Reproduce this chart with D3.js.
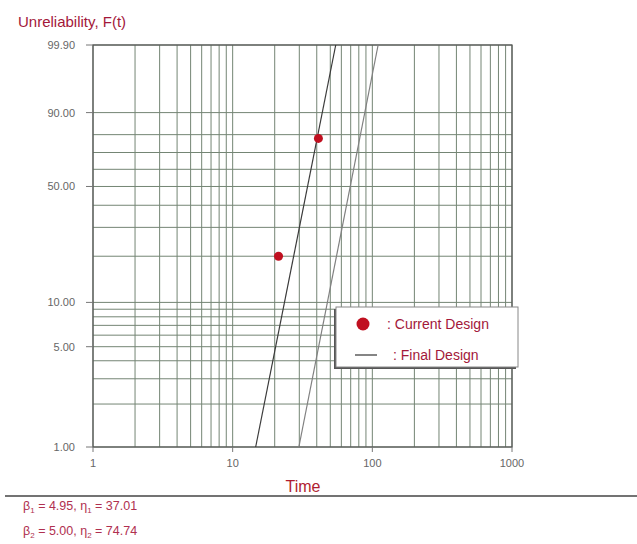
<!DOCTYPE html>
<html>
<head>
<meta charset="utf-8">
<script src="https://cdn.jsdelivr.net/npm/d3@7"></script>
<style>
  body { margin: 0; background: #fff; }
  text { font-family: "Liberation Sans", Arial, sans-serif; }
</style>
</head>
<body>
<div id="chart"></div>
<script>
// Observed points (time, unreliability %)
const pointTimes = [21.3, 41.1];
const pointUnrel = [20, 78];

// Weibull fits printed under the chart
const fitBetas = [4.95, 5.0];
const fitEtas = [37.01, 74.74];
const fitColors = ["#3a3a3a", "#808080"];

// Axis ticks
const xTicks = [1, 10, 100, 1000];
const yTicks = [99.9, 90, 50, 10, 5, 1];
const yGrid = [1, 2, 3, 4, 5, 6, 7, 8, 9, 10, 20, 30, 40, 50, 60, 70, 80, 90, 99.9];

const legendLabels = [": Current Design", ": Final Design"];

(function drawChart() {
  const width = 637, height = 544;
  const margin = { top: 45, right: 125, bottom: 97, left: 93 };

  const svg = d3.select("#chart").append("svg")
    .attr("width", width)
    .attr("height", height);

  const weib = (p) => Math.log(-Math.log(1 - p / 100));

  const x = d3.scaleLog()
    .domain([1, 1000])
    .range([margin.left, width - margin.right]);

  const y = d3.scaleLinear()
    .domain([weib(1), weib(99.9)])
    .range([height - margin.bottom, margin.top]);

  const x0 = x.range()[0], x1 = x.range()[1];
  const y0 = y.range()[1], y1 = y.range()[0];

  const gridColor = "#748574";

  // vertical grid: every integer multiple in each decade
  const xGrid = [];
  for (let d = 1; d < 1000; d *= 10) {
    for (let k = 1; k <= 9; k++) xGrid.push(d * k);
  }
  xGrid.push(1000);

  svg.append("g").selectAll("line")
    .data(xGrid)
    .join("line")
    .attr("x1", (d) => x(d)).attr("x2", (d) => x(d))
    .attr("y1", y0).attr("y2", y1)
    .attr("stroke", gridColor)
    .attr("stroke-width", 1);

  svg.append("g").selectAll("line")
    .data(yGrid)
    .join("line")
    .attr("x1", x0).attr("x2", x1)
    .attr("y1", (d) => y(weib(d))).attr("y2", (d) => y(weib(d)))
    .attr("stroke", gridColor)
    .attr("stroke-width", 1);

  // frame
  svg.append("rect")
    .attr("x", x0).attr("y", y0)
    .attr("width", x1 - x0).attr("height", y1 - y0)
    .attr("fill", "none")
    .attr("stroke", "#555")
    .attr("stroke-width", 1.2);

  // y ticks + labels
  svg.append("g").selectAll("line")
    .data(yTicks)
    .join("line")
    .attr("x1", x0 - 7).attr("x2", x0)
    .attr("y1", (d) => y(weib(d))).attr("y2", (d) => y(weib(d)))
    .attr("stroke", "#777");

  svg.append("g").selectAll("text")
    .data(yTicks)
    .join("text")
    .attr("x", x0 - 18)
    .attr("y", (d) => y(weib(d)) + 4)
    .attr("text-anchor", "end")
    .attr("font-size", "11px")
    .attr("fill", "#666")
    .text((d) => d3.format(".2f")(d));

  // x ticks + labels
  svg.append("g").selectAll("line")
    .data(xTicks)
    .join("line")
    .attr("x1", (d) => x(d)).attr("x2", (d) => x(d))
    .attr("y1", y1).attr("y2", y1 + 5)
    .attr("stroke", "#777");

  svg.append("g").selectAll("text")
    .data(xTicks)
    .join("text")
    .attr("x", (d) => x(d))
    .attr("y", y1 + 20)
    .attr("text-anchor", "middle")
    .attr("font-size", "11px")
    .attr("fill", "#666")
    .text((d) => d);

  // axis titles
  svg.append("text")
    .attr("x", 18).attr("y", 27)
    .attr("font-size", "15px")
    .attr("fill", "#a3183a")
    .text("Unreliability, F(t)");

  svg.append("text")
    .attr("x", 303).attr("y", 492)
    .attr("text-anchor", "middle")
    .attr("font-size", "16px")
    .attr("fill", "#b01c30")
    .text("Time");

  // fitted Weibull lines, clipped to the plot
  const pLo = 1, pHi = 99.9;
  const tAt = (beta, eta, p) => eta * Math.exp(weib(p) / beta);
  const fits = fitBetas.map((b, i) => ({ beta: b, eta: fitEtas[i], color: fitColors[i] }));

  svg.append("g").selectAll("line")
    .data(fits)
    .join("line")
    .attr("x1", (d) => x(tAt(d.beta, d.eta, pLo)))
    .attr("y1", y(weib(pLo)))
    .attr("x2", (d) => x(tAt(d.beta, d.eta, pHi)))
    .attr("y2", y(weib(pHi)))
    .attr("stroke", (d) => d.color)
    .attr("stroke-width", 1.2);

  // data points
  svg.append("g").selectAll("circle")
    .data(pointTimes.map((t, i) => ({ t, p: pointUnrel[i] })))
    .join("circle")
    .attr("cx", (d) => x(d.t))
    .attr("cy", (d) => y(weib(d.p)))
    .attr("r", 4.5)
    .attr("fill", "#c01020");

  // legend (shadow falls to the lower left)
  const lg = svg.append("g").attr("transform", "translate(336,307)");
  lg.append("rect")
    .attr("x", -2).attr("y", 2)
    .attr("width", 182).attr("height", 60)
    .attr("fill", "#555");
  lg.append("rect")
    .attr("width", 182).attr("height", 60)
    .attr("fill", "#fff")
    .attr("stroke", "#888");
  lg.append("circle")
    .attr("cx", 27).attr("cy", 17)
    .attr("r", 6.5)
    .attr("fill", "#c01020");
  lg.append("line")
    .attr("x1", 19).attr("x2", 41)
    .attr("y1", 48).attr("y2", 48)
    .attr("stroke", "#333")
    .attr("stroke-width", 1.2);
  lg.selectAll("text.leg")
    .data(legendLabels)
    .join("text")
    .attr("class", "leg")
    .attr("x", (d, i) => (i === 0 ? 51 : 57))
    .attr("y", (d, i) => (i === 0 ? 22 : 53))
    .attr("font-size", "14px")
    .attr("fill", "#a3183a")
    .text((d) => d);

  // separator and parameter text
  svg.append("line")
    .attr("x1", 5).attr("x2", width)
    .attr("y1", 496).attr("y2", 496)
    .attr("stroke", "#444")
    .attr("stroke-width", 1.5);

  const paramText = svg.append("g").selectAll("text")
    .data(fits)
    .join("text")
    .attr("x", 23)
    .attr("y", (d, i) => 510 + i * 25)
    .attr("font-size", "12.5px")
    .attr("fill", "#b03050");

  paramText.each(function (d, i) {
    const t = d3.select(this);
    const n = String(i + 1);
    t.append("tspan").text("β");
    t.append("tspan").attr("font-size", "8px").attr("dy", 3).text(n);
    t.append("tspan").attr("dy", -3).text(" = " + d.beta.toFixed(2) + ", η");
    t.append("tspan").attr("font-size", "8px").attr("dy", 3).text(n);
    t.append("tspan").attr("dy", -3).text(" = " + d.eta.toFixed(2));
  });
})();
</script>
</body>
</html>
